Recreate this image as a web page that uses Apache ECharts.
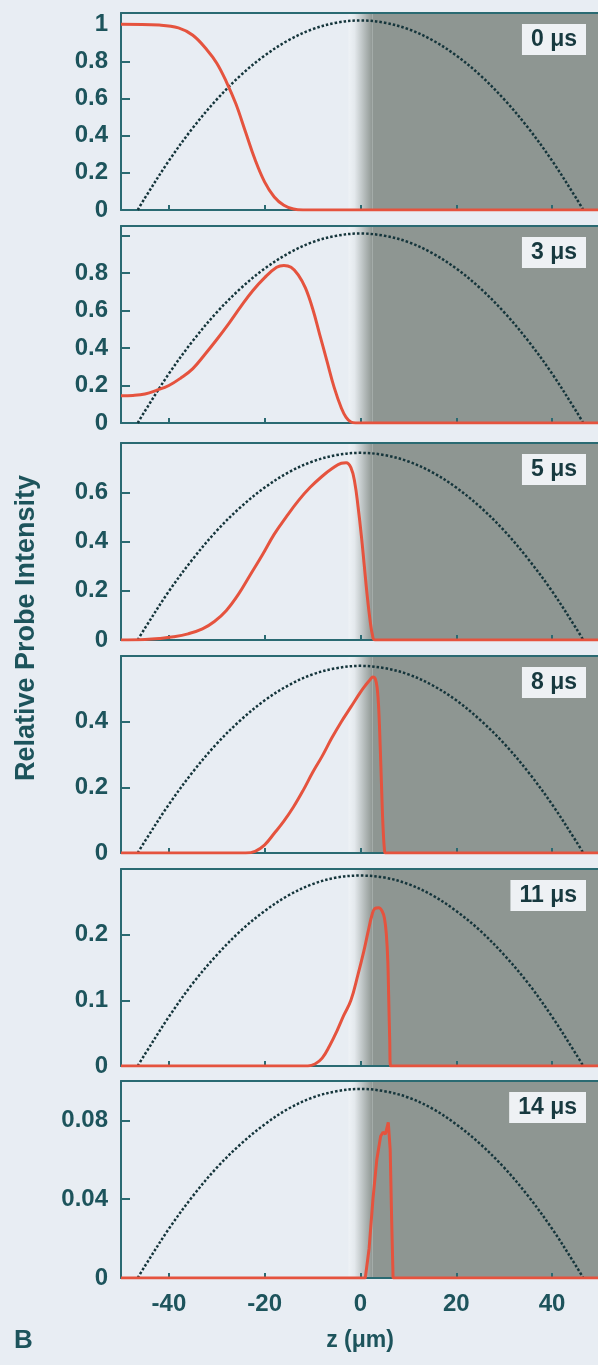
<!DOCTYPE html>
<html>
<head>
<meta charset="utf-8">
<script src="https://cdn.jsdelivr.net/npm/echarts@6/dist/echarts.min.js"></script>
<style>
  html, body { margin: 0; padding: 0; background: #e8edf3; }
  #chart { width: 598px; height: 1365px; }
</style>
</head>
<body>
<div id="chart"></div>
<script>
// Probe intensity profiles along z at successive delays, each over the
// condensate density profile (dotted) with the shaded region for z > 0.

const panelTimes = ['0 μs', '3 μs', '5 μs', '8 μs', '11 μs', '14 μs'];
const zTicks = [-40, -20, 0, 20, 40];

const yMax = [1.06, 1.05, 0.8, 0.6, 0.3, 0.1];
const yTicks = [
  [0, 0.2, 0.4, 0.6, 0.8, 1],
  [0, 0.2, 0.4, 0.6, 0.8, 1],
  [0, 0.2, 0.4, 0.6],
  [0, 0.2, 0.4],
  [0, 0.1, 0.2],
  [0, 0.04, 0.08]
];
const yLabels = [
  [0, 0.2, 0.4, 0.6, 0.8, 1],
  [0, 0.2, 0.4, 0.6, 0.8],
  [0, 0.2, 0.4, 0.6],
  [0, 0.2, 0.4],
  [0, 0.1, 0.2],
  [0, 0.04, 0.08]
];

// condensate profile, sampled in z (μm)
const cloudZ = [-46.5, -45, -40, -35, -30, -25, -20, -15, -10, -5, 0,
                5, 10, 15, 20, 25, 30, 35, 40, 45, 46.5];
const cloud0us  = [0, 0.065, 0.265, 0.442, 0.595, 0.725, 0.831, 0.914, 0.973, 1.008, 1.02,
                   1.008, 0.973, 0.914, 0.831, 0.725, 0.595, 0.442, 0.265, 0.065, 0];
const cloud3us  = [0, 0.064, 0.263, 0.438, 0.590, 0.718, 0.823, 0.905, 0.964, 0.998, 1.01,
                   0.998, 0.964, 0.905, 0.823, 0.718, 0.590, 0.438, 0.263, 0.064, 0];
const cloud5us  = [0, 0.048, 0.198, 0.329, 0.444, 0.540, 0.619, 0.681, 0.725, 0.751, 0.76,
                   0.751, 0.725, 0.681, 0.619, 0.540, 0.444, 0.329, 0.198, 0.048, 0];
const cloud8us  = [0, 0.036, 0.148, 0.247, 0.333, 0.405, 0.465, 0.511, 0.544, 0.563, 0.57,
                   0.563, 0.544, 0.511, 0.465, 0.405, 0.333, 0.247, 0.148, 0.036, 0];
const cloud11us = [0, 0.018, 0.075, 0.126, 0.169, 0.206, 0.236, 0.260, 0.277, 0.287, 0.29,
                   0.287, 0.277, 0.260, 0.236, 0.206, 0.169, 0.126, 0.075, 0.018, 0];
const cloud14us = [0, 0.0061, 0.025, 0.0416, 0.056, 0.068, 0.078, 0.086, 0.0916, 0.0948, 0.096,
                   0.0948, 0.0916, 0.086, 0.078, 0.068, 0.056, 0.0416, 0.025, 0.0061, 0];

// probe intensity, [z (μm), relative intensity]
const probe0us = [[-50, 1.0], [-42, 0.995], [-38, 0.98], [-35, 0.94], [-32, 0.86], [-30, 0.79],
  [-28, 0.69], [-26, 0.57], [-24, 0.42], [-22, 0.27], [-20, 0.15], [-18, 0.07], [-16, 0.025],
  [-14, 0.005], [-12, 0], [50, 0]];
const probe3us = [[-50, 0.145], [-47.5, 0.147], [-45, 0.155], [-42.5, 0.175], [-40, 0.2],
  [-37.5, 0.24], [-35, 0.29], [-32.5, 0.365], [-30, 0.445], [-27.5, 0.53], [-25, 0.62],
  [-22.5, 0.705], [-20, 0.775], [-17.5, 0.83], [-16, 0.84], [-14.5, 0.83], [-13, 0.79],
  [-11.5, 0.72], [-10, 0.61], [-8.5, 0.47], [-7, 0.33], [-5.5, 0.19], [-4, 0.08], [-3, 0.03],
  [-2, 0.005], [-1, 0], [50, 0]];
const probe5us = [[-50, 0], [-45, 0.002], [-42, 0.006], [-39, 0.013], [-36, 0.025], [-33, 0.045],
  [-30.5, 0.075], [-28, 0.12], [-25.5, 0.185], [-23, 0.265], [-20.5, 0.345], [-18, 0.43],
  [-15.5, 0.5], [-13, 0.565], [-10.5, 0.62], [-8, 0.665], [-6, 0.695], [-4, 0.718], [-3, 0.72],
  [-2, 0.70], [-1.2, 0.64], [-0.5, 0.54], [0.2, 0.42], [0.8, 0.3], [1.4, 0.18], [2, 0.08],
  [2.5, 0.02], [3, 0], [50, 0]];
const probe8us = [[-50, 0], [-24, 0], [-22, 0.005], [-20, 0.025], [-18, 0.06], [-16, 0.097],
  [-14, 0.14], [-12, 0.19], [-10, 0.245], [-8, 0.295], [-6, 0.35], [-4, 0.40], [-2, 0.445],
  [0, 0.49], [1, 0.51], [2, 0.528], [2.6, 0.536], [3.1, 0.53], [3.5, 0.50], [3.8, 0.44],
  [4.1, 0.33], [4.4, 0.2], [4.7, 0.08], [5.0, 0.01], [5.2, 0], [50, 0]];
const probe11us = [[-50, 0], [-11, 0], [-9.5, 0.003], [-8, 0.012], [-6.5, 0.03], [-5, 0.052],
  [-3.5, 0.077], [-2, 0.10], [-0.5, 0.14], [0.7, 0.175], [1.6, 0.205], [2.4, 0.23], [3.0, 0.24],
  [3.8, 0.241], [4.5, 0.236], [5.0, 0.225], [5.4, 0.2], [5.7, 0.16], [5.9, 0.1], [6.1, 0.04],
  [6.3, 0], [50, 0]];
const probe14us = [[-50, 0], [1.0, 0], [1.8, 0.015], [2.6, 0.04], [3.4, 0.06], [4.2, 0.072],
  [4.7, 0.074], [5.2, 0.073], [5.8, 0.079], [6.2, 0.065], [6.5, 0.03], [6.8, 0], [50, 0]];

const clouds = [cloud0us, cloud3us, cloud5us, cloud8us, cloud11us, cloud14us];
const probes = [probe0us, probe3us, probe5us, probe8us, probe11us, probe14us];

// layout
const panelTop = [13, 226, 443, 656, 869, 1081];
const panelHeight = 197;
const plotLeft = 121;
const plotWidth = 479;

const FONT = "'Liberation Sans', Arial, Helvetica, sans-serif";
const TEXT = '#1d545c';
const FRAME = '#2a6a72';
const CLOUD = '#15353b';
const PROBE = '#e5533e';
const SHADE = '#8e9692';
const LIGHT = '#eef2f6';

const grid = [], xAxis = [], yAxis = [], series = [], title = [];

panelTimes.forEach((label, i) => {
  const last = i === panelTimes.length - 1;
  grid.push({
    left: plotLeft, top: panelTop[i], width: plotWidth, height: panelHeight,
    containLabel: false, outerBoundsMode: 'none'
  });
  // bottom axis with inward ticks
  xAxis.push({
    type: 'value', gridIndex: i, min: -50, max: 50, position: 'bottom', z: 3,
    axisLine: { show: true, onZero: false, lineStyle: { color: FRAME, width: 2 } },
    axisTick: { show: true, inside: true, length: 5, customValues: zTicks,
                lineStyle: { color: FRAME, width: 2 } },
    axisLabel: { show: last, customValues: zTicks, margin: 14, color: TEXT,
                 fontSize: 24, fontWeight: 'bold', fontFamily: FONT },
    splitLine: { show: false }
  });
  // top edge of the frame
  xAxis.push({
    type: 'value', gridIndex: i, min: -50, max: 50, position: 'top', z: 3,
    axisLine: { show: true, onZero: false, lineStyle: { color: FRAME, width: 2 } },
    axisTick: { show: false }, axisLabel: { show: false }, splitLine: { show: false }
  });
  yAxis.push({
    type: 'value', gridIndex: i, min: 0, max: yMax[i], z: 3,
    axisLine: { show: true, onZero: false, lineStyle: { color: FRAME, width: 2 } },
    axisTick: { show: true, inside: true, length: 9, customValues: yTicks[i],
                lineStyle: { color: FRAME, width: 2 } },
    axisLabel: { show: true, customValues: yLabels[i], margin: 13, color: TEXT,
                 fontSize: 24, fontWeight: 'bold', fontFamily: FONT },
    splitLine: { show: false }
  });

  series.push({
    type: 'line', xAxisIndex: 2 * i, yAxisIndex: i, z: 4,
    data: cloudZ.map((z, k) => [z, clouds[i][k]]),
    showSymbol: false, smooth: 0.35, silent: true,
    lineStyle: { color: CLOUD, width: 2.5, type: [2.5, 2] },
    markArea: {
      silent: true, z: 1,
      data: [
        [{ xAxis: -2.5, itemStyle: { color: new echarts.graphic.LinearGradient(0, 0, 1, 0, [
            { offset: 0, color: LIGHT }, { offset: 0.25, color: '#e4e9ed' },
            { offset: 1, color: SHADE }]) } },
         { xAxis: 2.5 }],
        [{ xAxis: 2.5, itemStyle: { color: SHADE } }, { xAxis: 50 }]
      ]
    }
  });
  series.push({
    type: 'line', xAxisIndex: 2 * i, yAxisIndex: i, z: 5,
    data: probes[i],
    showSymbol: false, smooth: i === 5 ? false : 0.4, silent: true,
    lineStyle: { color: PROBE, width: 3 }
  });

  title.push({
    text: label, right: 12, top: panelTop[i] + 11,
    backgroundColor: '#eef1f4', padding: [4, 9],
    textStyle: { fontSize: 23, fontWeight: 'bold', color: '#17393f', fontFamily: FONT }
  });
});

const chart = echarts.init(document.getElementById('chart'), null, { renderer: 'canvas' });
chart.setOption({
  animation: false,
  backgroundColor: '#e8edf3',
  textStyle: { fontFamily: FONT },
  title, grid, xAxis, yAxis, series,
  graphic: [
    { type: 'text', x: 27, y: 628, rotation: Math.PI / 2,
      style: { text: 'Relative Probe Intensity', fill: TEXT, textAlign: 'center',
               textVerticalAlign: 'middle', font: 'bold 27px ' + FONT } },
    { type: 'text', x: 360, y: 1341,
      style: { text: 'z (μm)', fill: TEXT, textAlign: 'center',
               textVerticalAlign: 'middle', font: 'bold 23px ' + FONT } },
    { type: 'text', x: 14, y: 1341,
      style: { text: 'B', fill: TEXT, textAlign: 'left',
               textVerticalAlign: 'middle', font: 'bold 26px ' + FONT } }
  ]
});
</script>
</body>
</html>
